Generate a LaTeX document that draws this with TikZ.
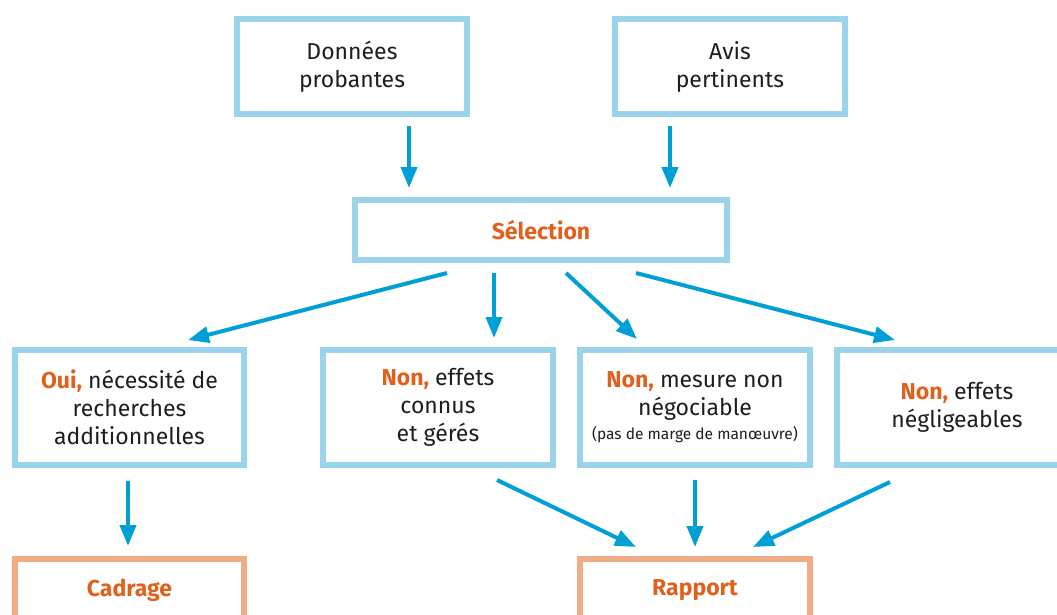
\documentclass[tikz,border=0pt]{standalone}
\usepackage{fontspec}
\setmainfont{Fira Sans}
\usetikzlibrary{arrows.meta,calc}
\definecolor{boxblue}{RGB}{155,211,234}
\definecolor{arrblue}{RGB}{0,160,214}
\definecolor{boxorange}{RGB}{240,172,135}
\definecolor{txtorange}{RGB}{224,97,30}
\definecolor{txtdark}{RGB}{30,30,30}
\newcommand{\hl}[1]{\textbf{\textcolor{txtorange}{#1}}}
\tikzset{
  bx/.style={draw=boxblue, line width=6pt, outer sep=0pt, inner sep=0pt, align=center,
    text=txtdark, font=\fontsize{23}{28}\selectfont},
  obx/.style={bx, draw=boxorange},
  arr/.style={draw=arrblue, line width=4pt, -{Triangle[length=21pt,width=16pt]}},
}
\begin{document}
\begin{tikzpicture}[x=1pt,y=-1pt]
\clip (0,0) rectangle (1057,615);
\fill[white] (0,0) rectangle (1057,615);
\node[bx, minimum width=230pt, minimum height=95pt] (D) at (352,66.5) {Données\\probantes};
\node[bx, minimum width=230pt, minimum height=95pt] (A) at (730,66.5) {Avis\\pertinents};
\node[bx, minimum width=372pt, minimum height=60pt] (S) at (541,230) {\hl{Sélection}};
\node[bx, minimum width=229pt, minimum height=115pt] (O) at (129.5,407.5) {\hl{Oui,} nécessité de\\recherches\\additionnelles};
\node[bx, minimum width=230pt, minimum height=115pt] (N1) at (438,407.5) {\hl{Non,} effets\\connus\\et gérés};
\node[bx, minimum width=230pt, minimum height=115pt] (N2) at (695,407.5) {\hl{Non,} mesure non\\négociable\\[-4pt]{\fontsize{15.5}{18}\selectfont (pas de marge de manœuvre)}};
\node[bx, minimum width=240pt, minimum height=115pt] (N3) at (957,407.5) {\hl{Non,} effets\\négligeables};
\node[obx, minimum width=229pt, minimum height=63pt] (C) at (129.5,590.5) {\hl{Cadrage}};
\node[obx, minimum width=230pt, minimum height=63pt] (R) at (695,590.5) {\hl{Rapport}};
\draw[arr] ($(D.south)+(57,12)$) -- ($(S.north)+(-132,-12)$);
\draw[arr] ($(A.south)+(-60,12)$) -- ($(S.north)+(129,-12)$);
\draw[arr] ($(S.south)+(-94,13)$) -- ($(O.north)+(58.5,-10)$);
\draw[arr] ($(S.south)+(-47,13)$) -- ($(N1.north)+(56,-12)$);
\draw[arr] ($(S.south)+(25,13)$) -- ($(N2.north)+(-58,-11)$);
\draw[arr] ($(S.south)+(95,13)$) -- ($(N3.north)+(-62,-10)$);
\draw[arr] ($(O.south)+(-1.5,16)$) -- ($(C.north)+(-1.5,-13)$);
\draw[arr] ($(N1.south)+(59,15)$) -- ($(R.north)+(-59,-12)$);
\draw[arr] ($(N2.south)+(0,15)$) -- ($(R.north)+(0,-12)$);
\draw[arr] ($(N3.south)+(-67,17)$) -- ($(R.north)+(58,-12)$);
\end{tikzpicture}
\end{document}
